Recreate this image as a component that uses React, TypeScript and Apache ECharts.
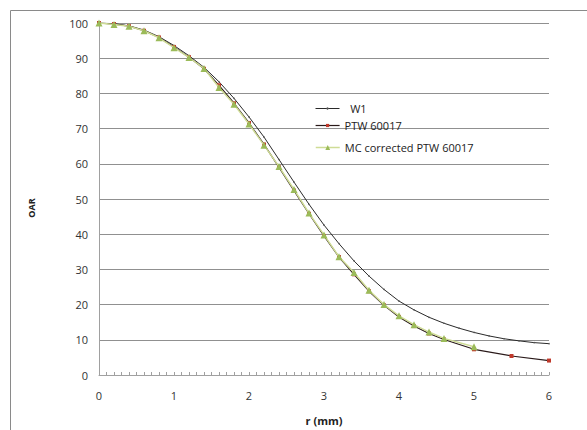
import React, { useEffect, useRef } from "react";
import * as echarts from "echarts";

const w1X = [0, 0.2, 0.4, 0.6, 0.8, 1.0, 1.2, 1.4, 1.6, 1.8, 2.0, 2.2, 2.4, 2.6, 2.8, 3.0, 3.2, 3.4, 3.6, 3.8, 4.0, 4.2, 4.4, 4.6, 4.8, 5.0, 5.2, 5.4, 5.6, 5.8, 6.0];
const w1Y = [100, 99.8, 99.2, 98.0, 96.1, 93.6, 90.7, 87.4, 83.3, 78.6, 73.3, 67.6, 61.2, 54.8, 48.5, 42.6, 37.3, 32.4, 28.1, 24.3, 21.0, 18.5, 16.4, 14.7, 13.3, 12.1, 11.1, 10.3, 9.7, 9.2, 8.9];

const ptwX = [0, 0.2, 0.4, 0.6, 0.8, 1.0, 1.2, 1.4, 1.6, 1.8, 2.0, 2.2, 2.4, 2.6, 2.8, 3.0, 3.2, 3.4, 3.6, 3.8, 4.0, 4.2, 4.4, 4.6, 5.0, 5.5, 6.0];
const ptwY = [100, 99.7, 99.1, 97.8, 95.9, 93.2, 90.3, 87.0, 82.3, 77.2, 71.6, 65.5, 59.0, 52.4, 45.8, 39.5, 33.5, 28.6, 23.8, 19.8, 16.5, 13.9, 11.8, 10.1, 7.3, 5.4, 4.1];

const mcX = [0, 0.2, 0.4, 0.6, 0.8, 1.0, 1.2, 1.4, 1.6, 1.8, 2.0, 2.2, 2.4, 2.6, 2.8, 3.0, 3.2, 3.4, 3.6, 3.8, 4.0, 4.2, 4.4, 4.6, 5.0];
const mcY = [100, 99.6, 99.1, 97.8, 95.8, 93.0, 90.2, 87.1, 81.7, 76.9, 71.3, 65.3, 59.2, 52.7, 46.0, 39.8, 33.6, 29.1, 24.1, 20.0, 16.8, 14.3, 12.2, 10.4, 8.0];

const seriesNames = ["W1", "PTW 60017", "MC corrected PTW 60017"];
const xTitle = "r (mm)";
const yTitle = "OAR";

const pairs = (xs: number[], ys: number[]) => xs.map((x, i) => [x, ys[i]]);

export default function App() {
  const ref = useRef<HTMLDivElement>(null);
  useEffect(() => {
    document.body.style.margin = "0";
    const chart = echarts.init(ref.current!, null, { renderer: "svg" });
    const font = "Open Sans";
    const legendBase = {
      orient: "vertical",
      itemWidth: 24,
      textStyle: { fontFamily: font, fontSize: 11, color: "#222" },
      selectedMode: false,
    };
    chart.setOption({
      animation: false,
      backgroundColor: "#fff",
      grid: { left: 99, right: 38, top: 23, bottom: 55 },
      xAxis: {
        type: "value",
        min: 0,
        max: 6,
        interval: 1,
        axisLine: { show: true, lineStyle: { color: "#a0a0a0", width: 1 } },
        axisTick: { show: true, inside: true, length: 3, lineStyle: { color: "#a0a0a0" } },
        minorTick: { show: true, splitNumber: 10, length: 3, lineStyle: { color: "#a0a0a0" } },
        splitLine: { show: false },
        axisLabel: { fontFamily: font, fontSize: 11, color: "#333", margin: 15 },
      },
      yAxis: {
        type: "value",
        min: 0,
        max: 100,
        interval: 10,
        axisLine: { show: true, lineStyle: { color: "#a0a0a0", width: 1 } },
        axisTick: { show: false },
        splitLine: { show: true, lineStyle: { color: "#909090", width: 1 } },
        axisLabel: { fontFamily: font, fontSize: 11, color: "#333", margin: 11 },
      },
      legend: [
        { ...legendBase, itemHeight: 3, lineStyle: { width: 1 }, data: [seriesNames[0]], left: 310, top: 98, formatter: (n: string) => "  " + n },
        { ...legendBase, itemHeight: 4, lineStyle: { width: 1.2 }, data: [seriesNames[1]], left: 310, top: 115 },
        { ...legendBase, itemHeight: 6, lineStyle: { width: 1.5 }, data: [seriesNames[2]], left: 310, top: 137 },
      ],
      graphic: [
        {
          type: "rect",
          shape: { x: 10.5, y: 10.5, width: 700, height: 600 },
          style: { fill: "none", stroke: "#8a8a8a", lineWidth: 1 },
          silent: true,
          z: -10,
        },
        {
          type: "text",
          x: 31,
          y: 208,
          rotation: Math.PI / 2,
          style: {
            text: yTitle,
            fontFamily: font,
            fontSize: 9,
            fontWeight: "bold",
            fill: "#222",
            textAlign: "center",
            textVerticalAlign: "middle",
          },
        },
        {
          type: "text",
          x: 324,
          y: 420,
          style: {
            text: xTitle,
            fontFamily: font,
            fontSize: 11,
            fontWeight: "bold",
            fill: "#222",
            textAlign: "center",
            textVerticalAlign: "middle",
          },
        },
      ],
      series: [
        {
          name: seriesNames[0],
          type: "line",
          data: pairs(w1X, w1Y),
          symbol: "circle",
          symbolSize: 1.5,
          showSymbol: true,
          lineStyle: { color: "#2a2a2a", width: 1 },
          itemStyle: { color: "#555" },
          z: 2,
        },
        {
          name: seriesNames[1],
          type: "line",
          data: pairs(ptwX, ptwY),
          symbol: "rect",
          symbolSize: 4,
          lineStyle: { color: "#2a1a1a", width: 1.2 },
          itemStyle: { color: "#c0392b" },
          z: 3,
        },
        {
          name: seriesNames[2],
          type: "line",
          data: pairs(mcX, mcY),
          symbol: "triangle",
          symbolSize: 7,
          lineStyle: { color: "#cfdc96", width: 1.5 },
          itemStyle: { color: "#9bbb59" },
          z: 4,
        },
      ],
    });
    return () => chart.dispose();
  }, []);
  return <div ref={ref} style={{ width: 587, height: 430 }} />;
}
